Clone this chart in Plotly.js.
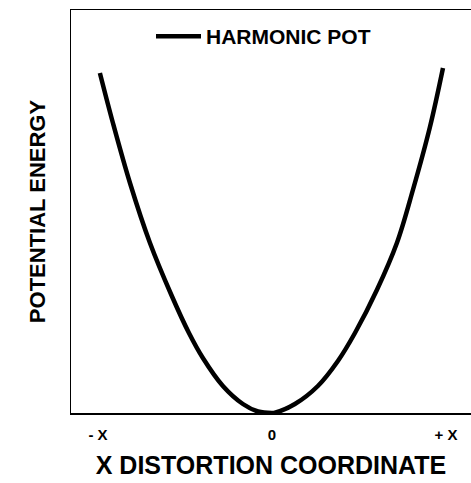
<!DOCTYPE html>
<html>
<head>
<meta charset="utf-8">
<script src="https://cdn.plot.ly/plotly-3.0.1.min.js"></script>
<style>html,body{margin:0;padding:0;background:#fff;}#chart{width:471px;height:483px;}</style>
</head>
<body>
<div id="chart"></div>
<script>
// Distortion coordinate (in units of X) and potential energy (arbitrary units)
const distortion = [-0.989, -0.914, -0.816, -0.701, -0.578, -0.477, -0.397, -0.282, -0.167, -0.080, 0,
                    0.017, 0.132, 0.264, 0.379, 0.477, 0.603, 0.718, 0.810, 0.908, 0.983];
const energy =     [3.40, 2.90, 2.30, 1.70, 1.18, 0.80, 0.55, 0.27, 0.09, 0.015, 0,
                    0.003, 0.09, 0.27, 0.52, 0.80, 1.23, 1.70, 2.23, 2.86, 3.45];
const tickValues = [-1, 0, 1];
const tickLabels = ['- X', '0', '+ X'];
const seriesName = 'HARMONIC POT';

const font = 'Liberation Sans, Arial, Helvetica, sans-serif';

Plotly.newPlot('chart', [{
  x: distortion, y: energy, type: 'scatter', mode: 'lines', name: seriesName,
  line: {color: '#000', width: 4.5, shape: 'spline', smoothing: 1}
}], {
  width: 471, height: 483,
  margin: {l: 71, r: 0, t: 10, b: 70},
  paper_bgcolor: '#fff', plot_bgcolor: '#fff',
  showlegend: true,
  legend: {x: 0.2, y: 0.985, xanchor: 'left', yanchor: 'top', bgcolor: 'rgba(0,0,0,0)',
           itemwidth: 45,
           font: {family: font, size: 21, color: '#000', weight: 'bold'}},
  xaxis: {range: [-1.155, 1.144], tickvals: tickValues, ticktext: tickLabels,
          showgrid: false, zeroline: false, showline: true, mirror: true,
          linecolor: '#000', linewidth: 1.5, ticks: '', ticklabelstandoff: 7,
          tickfont: {family: font, size: 15, color: '#000', weight: 'bold'},
          title: {text: 'X DISTORTION COORDINATE', standoff: 15,
                  font: {family: font, size: 25, color: '#000', weight: 'bold'}}},
  yaxis: {range: [0, 4.03], showticklabels: false, ticks: '',
          showgrid: false, zeroline: false, showline: true, mirror: false,
          linecolor: '#000', linewidth: 1.5,
          title: {text: 'POTENTIAL ENERGY', standoff: 18,
                  font: {family: font, size: 22, color: '#000', weight: 'bold'}}}
}, {staticPlot: true, displayModeBar: false});
</script>
</body>
</html>
